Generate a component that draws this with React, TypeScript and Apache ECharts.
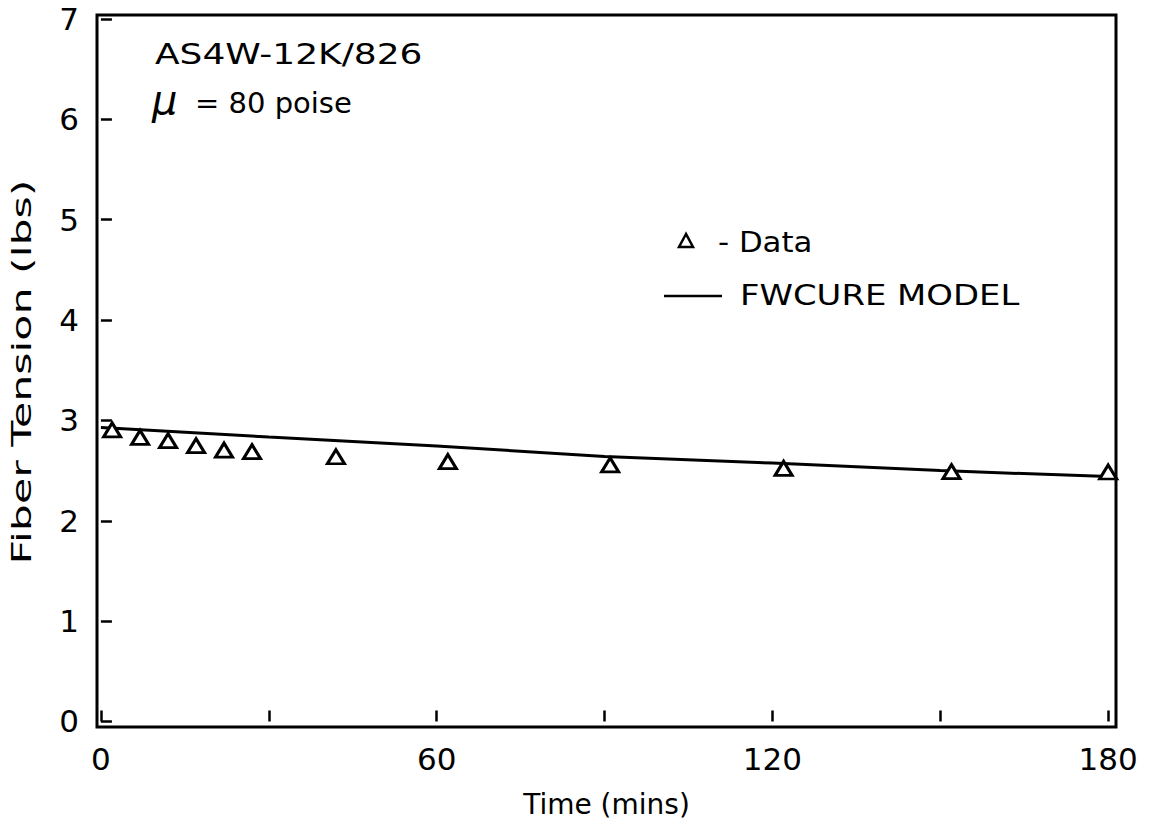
import React, { useEffect, useRef } from "react";
import * as echarts from "echarts";

const dataTimes = [2, 7, 12, 17, 22, 27, 42, 62, 91, 122, 152, 180];
const dataTension = [2.905, 2.832, 2.798, 2.748, 2.705, 2.688, 2.638, 2.589, 2.556, 2.523, 2.489, 2.486];

const modelTimes = [0, 30, 60, 90, 120, 150, 180];
const modelTension = [2.93, 2.835, 2.745, 2.64, 2.575, 2.5, 2.44];

const xTicks = [0, 30, 60, 90, 120, 150, 180];
const xLabels = [0, 60, 120, 180];
const yTicks = [0, 1, 2, 3, 4, 5, 6, 7];

const FONT = "DejaVu Sans";

export default function App() {
  const ref = useRef<HTMLDivElement>(null);
  useEffect(() => {
    if (!ref.current) return;
    const chart = echarts.init(ref.current, null, { renderer: "svg" });
    const option: any = {
      animation: false,
      backgroundColor: "#ffffff",
      grid: {
        left: 97,
        top: 15,
        width: 1019,
        height: 712,
        show: true,
        borderColor: "#000",
        borderWidth: 3,
        backgroundColor: "transparent",
      },
      xAxis: {
        type: "value",
        min: -0.7,
        max: 181.4,
        name: "Time (mins)",
        nameLocation: "middle",
        nameGap: 63,
        nameTextStyle: { fontFamily: FONT, fontSize: 28, color: "#000", fontWeight: 500 },
        axisLine: { show: false },
        splitLine: { show: false },
        axisTick: {
          show: true,
          inside: true,
          length: 11,
          customValues: xTicks,
          lineStyle: { color: "#000", width: 2.5 },
        },
        axisLabel: {
          customValues: xLabels,
          fontFamily: FONT,
          fontSize: 31,
          color: "#000",
          margin: 16,
        },
      },
      yAxis: {
        type: "value",
        min: -0.055,
        max: 7.04,
        axisLine: { show: false },
        splitLine: { show: false },
        axisTick: {
          show: true,
          inside: true,
          length: 11,
          customValues: yTicks,
          lineStyle: { color: "#000", width: 2.5 },
        },
        axisLabel: {
          customValues: yTicks,
          fontFamily: FONT,
          fontSize: 31,
          color: "#000",
          margin: 18,
        },
      },
      series: [
        {
          name: "FWCURE MODEL",
          type: "line",
          data: modelTimes.map((t, i) => [t, modelTension[i]]),
          showSymbol: false,
          smooth: false,
          lineStyle: { color: "#000", width: 3 },
          z: 2,
        },
        {
          name: "Data",
          type: "scatter",
          data: dataTimes.map((t, i) => [t, dataTension[i]]),
          symbol: "triangle",
          symbolSize: [17, 14],
          itemStyle: { color: "#fff", borderColor: "#000", borderWidth: 3, opacity: 1 },
          z: 3,
        },
      ],
      graphic: [
        {
          type: "text",
          x: 22,
          y: 372,
          rotation: Math.PI / 2,
          scaleX: 1.58,
          style: {
            text: "Fiber Tension (lbs)",
            fontFamily: FONT,
            fontSize: 27,
            fill: "#000",
            align: "center",
            verticalAlign: "middle",
          },
        },
        {
          type: "text",
          left: 155,
          top: 40,
          scaleX: 1.24,
          style: { text: "AS4W-12K/826", fontFamily: FONT, fontSize: 29, fill: "#000" },
        },
        {
          type: "text",
          left: 152,
          top: 80,
          style: { text: "μ", fontFamily: FONT, fontSize: 40, fontStyle: "italic", fill: "#000" },
        },
        {
          type: "text",
          left: 195,
          top: 88,
          style: { text: "= 80 poise", fontFamily: FONT, fontSize: 29, fill: "#000" },
        },
        {
          type: "polygon",
          shape: { points: [[686, 234], [679, 247], [693, 247]] },
          style: { fill: "#fff", stroke: "#000", lineWidth: 2.5 },
        },
        {
          type: "text",
          left: 718,
          top: 228,
          scaleX: 1.1,
          style: { text: "- Data", fontFamily: FONT, fontSize: 28, fill: "#000" },
        },
        {
          type: "line",
          shape: { x1: 664, y1: 296, x2: 722, y2: 296 },
          style: { stroke: "#000", lineWidth: 2.5 },
        },
        {
          type: "text",
          left: 740,
          top: 281,
          scaleX: 1.21,
          style: { text: "FWCURE MODEL", fontFamily: FONT, fontSize: 28, fill: "#000" },
        },
      ],
    };
    chart.setOption(option);
    return () => chart.dispose();
  }, []);
  return (
    <div
      ref={ref}
      style={{ position: "fixed", left: 0, top: 0, width: 1153, height: 838, background: "#fff" }}
    />
  );
}
